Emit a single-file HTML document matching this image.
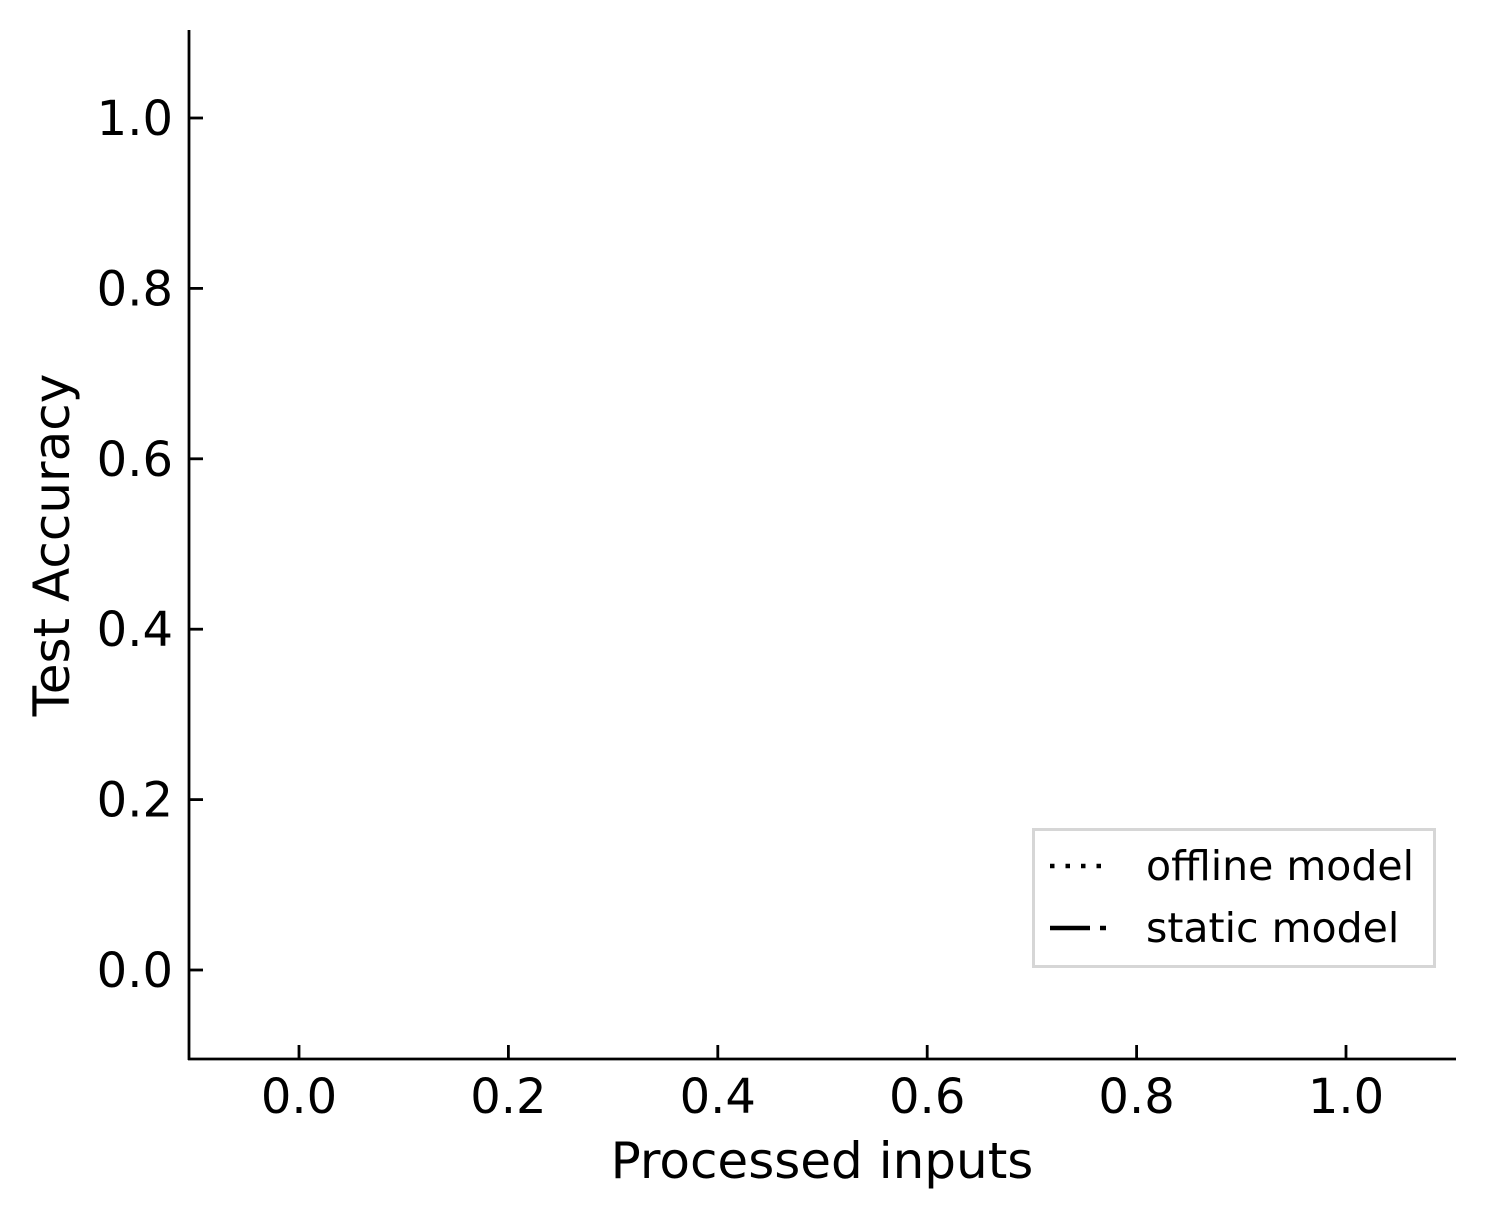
<!DOCTYPE html>
<html><head><meta charset="utf-8"><style>
html,body{margin:0;padding:0;background:#fff;}
svg{display:block;font-family:"DejaVu Sans","Liberation Sans",sans-serif;}
</style></head><body>
<svg id="chart" width="1486" height="1217" viewBox="0 0 1486 1217">
<rect width="1486" height="1217" fill="#fff"/>
<g id="axes"></g>
<line x1="189" y1="30" x2="189" y2="1060" stroke="#000" stroke-width="2.8"/>
<line x1="188" y1="1059" x2="1456" y2="1059" stroke="#000" stroke-width="2.8"/>
<text x="822" y="1178" font-size="50" text-anchor="middle">Processed inputs</text>
<text x="0" y="0" font-size="50" text-anchor="middle" transform="translate(69,545) rotate(-90)">Test Accuracy</text>
<g>
<rect x="1033.5" y="829.5" width="401" height="137" fill="#fff" stroke="#d6d6d6" stroke-width="3"/>
<line x1="1050" y1="866" x2="1107" y2="866" stroke="#000" stroke-width="4.5" stroke-dasharray="4.5 11"/>
<text x="1146" y="880" font-size="41">offline model</text>
<line x1="1050" y1="928" x2="1090" y2="928" stroke="#000" stroke-width="4.5"/>
<line x1="1100" y1="928" x2="1106" y2="928" stroke="#000" stroke-width="4.5"/>
<text x="1146" y="942" font-size="41">static model</text>
</g>
</svg>
<script>
const xTicks = [0.0, 0.2, 0.4, 0.6, 0.8, 1.0];
const yTicks = [0.0, 0.2, 0.4, 0.6, 0.8, 1.0];
const offlineX = [];
const offlineY = [];
const staticX = [];
const staticY = [];
function sx(v){return 299 + v*(1346-299);}
function sy(v){return 970 - v*(970-118);}
const NS="http://www.w3.org/2000/svg";
const g=document.getElementById('axes');
xTicks.forEach(v=>{
  const l=document.createElementNS(NS,'line');
  l.setAttribute('x1',sx(v));l.setAttribute('x2',sx(v));
  l.setAttribute('y1',1059);l.setAttribute('y2',1045);
  l.setAttribute('stroke','#000');l.setAttribute('stroke-width','2.8');
  
  
  g.appendChild(l);
  const t=document.createElementNS(NS,'text');
  t.setAttribute('x',sx(v));t.setAttribute('y',1113);
  t.setAttribute('font-size','48');t.setAttribute('text-anchor','middle');
  t.textContent=v.toFixed(1);
  
  
  g.appendChild(t);
});
yTicks.forEach(v=>{
  const l=document.createElementNS(NS,'line');
  l.setAttribute('x1',189);l.setAttribute('x2',203);
  l.setAttribute('y1',sy(v));l.setAttribute('y2',sy(v));
  l.setAttribute('stroke','#000');l.setAttribute('stroke-width','2.8');
  
  
  g.appendChild(l);
  const t=document.createElementNS(NS,'text');
  t.setAttribute('x',173);t.setAttribute('y',sy(v)+17);
  t.setAttribute('font-size','48');t.setAttribute('text-anchor','end');
  t.textContent=v.toFixed(1);
  
  
  g.appendChild(t);
});
function drawSeries(xs,ys,dash,name){
  if(!xs.length) return;
  const p=document.createElementNS(NS,'polyline');
  p.setAttribute('points',xs.map((x,i)=>sx(x)+','+sy(ys[i])).join(' '));
  p.setAttribute('fill','none');p.setAttribute('stroke','#000');
  p.setAttribute('stroke-width','4.5');p.setAttribute('stroke-dasharray',dash);
  
  
  g.appendChild(p);
}
drawSeries(offlineX,offlineY,'4.5 11','offline-line');
drawSeries(staticX,staticY,'40 10 6 10','static-line');
</script>
</body></html>
